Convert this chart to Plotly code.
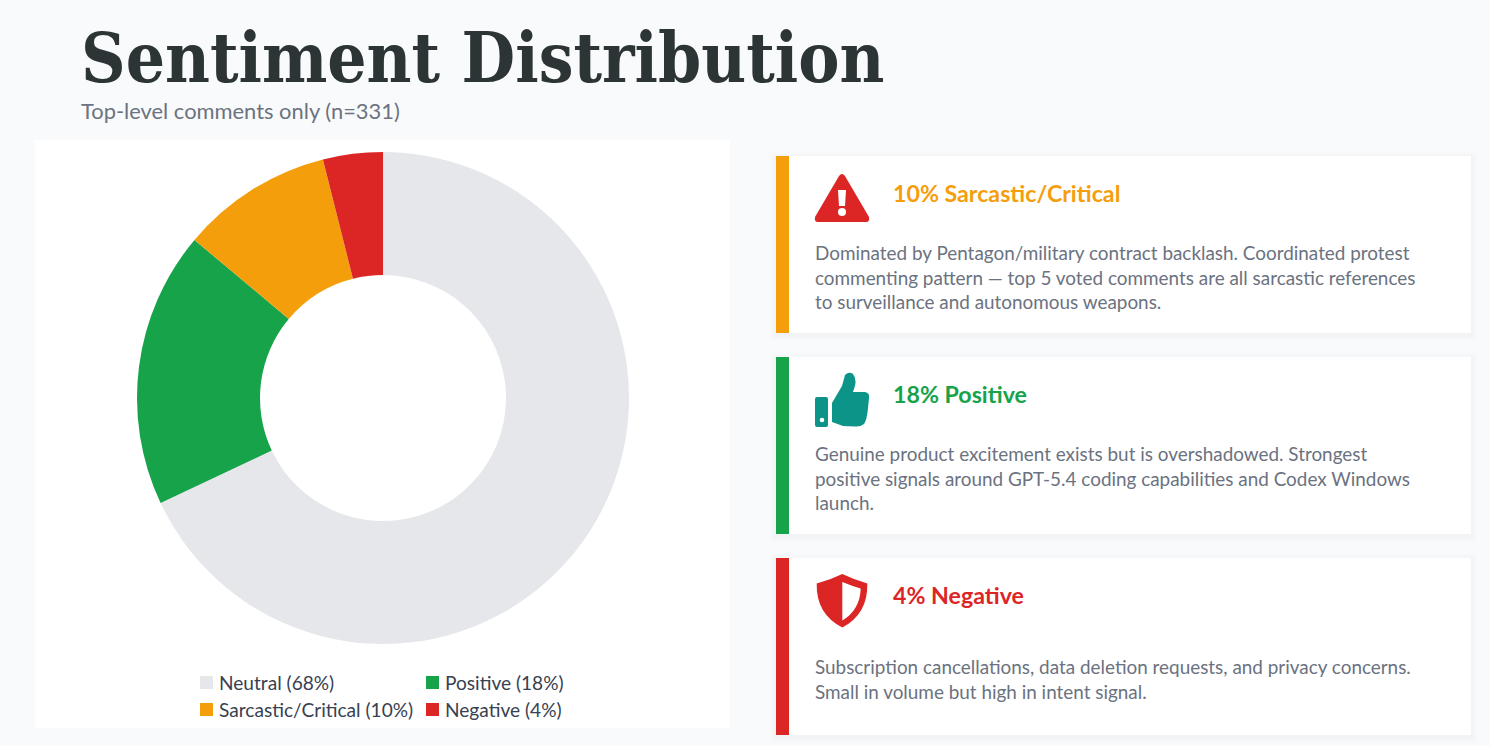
import plotly.graph_objects as go

W, H = 1490, 746

labels = ["Neutral (68%)", "Positive (18%)", "Sarcastic/Critical (10%)", "Negative (4%)"]
values = [225, 60, 33, 13]
colors = ["#e5e7eb", "#16a34a", "#f59e0b", "#dc2626"]

title_text = "Sentiment Distribution"
subtitle_text = "Top-level comments only (n=331)"

card_titles = ["10% Sarcastic/Critical", "18% Positive", "4% Negative"]
card_colors = ["#f59e0b", "#16a34a", "#dc2626"]
card_tops = [156, 357, 558]
card_lines = [
    ["Dominated by Pentagon/military contract backlash. Coordinated protest",
     "commenting pattern — top 5 voted comments are all sarcastic references",
     "to surveillance and autonomous weapons."],
    ["Genuine product excitement exists but is overshadowed. Strongest",
     "positive signals around GPT-5.4 coding capabilities and Codex Windows",
     "launch."],
    ["Subscription cancellations, data deletion requests, and privacy concerns.",
     "Small in volume but high in intent signal."],
]
card_line_tops = [252.5, 453.5, 666.5]


# pixel position on the page -> paper coords
def px(x):
    return x / W


def py(y):
    return 1 - y / H


def rect(x0, y0, x1, y1, color):
    return dict(type="rect", xref="paper", yref="paper", x0=px(x0), x1=px(x1),
                y0=py(y0), y1=py(y1), fillcolor=color, line_width=0, layer="below")


def circle(cx, cy, r, color):
    return dict(type="circle", xref="paper", yref="paper", x0=px(cx - r), x1=px(cx + r),
                y0=py(cy - r), y1=py(cy + r), fillcolor=color, line_width=0, layer="above")


def icon(cmds, color):
    parts = []
    for c in cmds:
        nums = c[1:]
        pts = [f"{px(nums[i]):.5f},{py(nums[i + 1]):.5f}" for i in range(0, len(nums), 2)]
        parts.append(c[0] + " ".join(pts))
    return dict(type="path", xref="paper", yref="paper", path=" ".join(parts) + " Z",
                fillcolor=color, line_width=0, layer="above")


def text(x, y, s, size, color, family="Lato", bold=False):
    return dict(xref="paper", yref="paper", x=px(x), y=py(y), text=f"<b>{s}</b>" if bold else s,
                showarrow=False, xanchor="left", yanchor="middle", align="left",
                font=dict(family=family, size=size, color=color), borderpad=0, borderwidth=0)


fig = go.Figure(go.Pie(
    labels=labels, values=values, hole=0.5, sort=False, direction="clockwise", rotation=0,
    marker=dict(colors=colors, line=dict(width=0)), textinfo="none", hoverinfo="label",
    showlegend=False, domain=dict(x=[px(137), px(629)], y=[py(644), py(152)]),
))

shapes = [rect(35, 140, 730, 728, "#ffffff")]
annotations = [
    text(81, 58, title_text, 68.7, "#2d3436", family="DejaVu Serif Condensed, DejaVu Serif", bold=True),
    text(81, 111, subtitle_text, 21.9, "#6b7280"),
]

for top, color, head, lines, line_top in zip(card_tops, card_colors, card_titles, card_lines, card_line_tops):
    # soft card shadow
    for grow, alpha in [(6, 0.006), (4, 0.008), (2, 0.012)]:
        shapes.append(rect(776 - grow, top - grow + 2, 1471 + grow, top + 177 + grow + 2, f"rgba(0,0,0,{alpha})"))
    shapes.append(rect(776, top, 1471, top + 177, "#ffffff"))
    shapes.append(rect(776, top, 789, top + 177, color))
    annotations.append(text(893, top + 36.5, head, 23.2, color, bold=True))
    for i, line in enumerate(lines):
        annotations.append(text(815, line_top + i * 24.5, line, 18.9, "#6b7280"))

# warning triangle
shapes.append(icon([("M", 839, 176), ("Q", 842, 172, 845, 176), ("L", 869, 217), ("Q", 870, 222, 866, 222),
                    ("L", 818, 222), ("Q", 814, 222, 815, 217)], "#dc2626"))
shapes.append(icon([("M", 838, 190), ("L", 846, 190), ("L", 845, 206), ("L", 839, 206)], "#ffffff"))
shapes.append(circle(842, 212, 4, "#ffffff"))

# thumbs up
shapes.append(icon([("M", 815, 399), ("Q", 815, 397, 817, 397), ("L", 826, 397), ("Q", 828, 397, 828, 399),
                    ("L", 828, 425), ("Q", 828, 427, 826, 427), ("L", 817, 427), ("Q", 815, 427, 815, 425)], "#0d9488"))
shapes.append(circle(822, 420, 2.3, "#ffffff"))
shapes.append(icon([("M", 832, 403), ("L", 842, 386), ("L", 845, 375), ("Q", 849, 371, 853, 374),
                    ("Q", 858, 380, 853, 392), ("L", 865, 392), ("Q", 870, 393, 869, 398), ("L", 868, 408),
                    ("Q", 867, 420, 864, 424), ("Q", 860, 427, 855, 426.5), ("L", 843, 426), ("L", 832, 422)], "#0d9488"))

# shield
shapes.append(icon([("M", 842.3, 574), ("Q", 855, 580, 867.3, 583.5), ("Q", 868, 614, 842.3, 627.5),
                    ("Q", 816, 614, 816.7, 583.5), ("Q", 830, 580, 842.3, 574)], "#dc2626"))
shapes.append(icon([("M", 842.3, 582), ("Q", 852, 586, 860.7, 588.5), ("Q", 860, 610, 842.3, 620.5)], "#ffffff"))

# legend, two columns
legend_x = [200, 426, 200, 426]
legend_y = [682.5, 682.5, 709.5, 709.5]
for lab, col, lx, ly in zip(labels, colors, legend_x, legend_y):
    shapes.append(rect(lx, ly - 6.5, lx + 13, ly + 6.5, col))
    annotations.append(text(lx + 19, ly, lab, 19.1, "#374151"))

fig.update_layout(
    width=W, height=H, autosize=False, margin=dict(l=0, r=0, t=0, b=0),
    paper_bgcolor="#f9fafb", plot_bgcolor="#f9fafb",
    shapes=shapes, annotations=annotations, showlegend=False,
)

fig.write_html("out.html", config=dict(displayModeBar=False), post_script="document.body.style.margin='0';")
